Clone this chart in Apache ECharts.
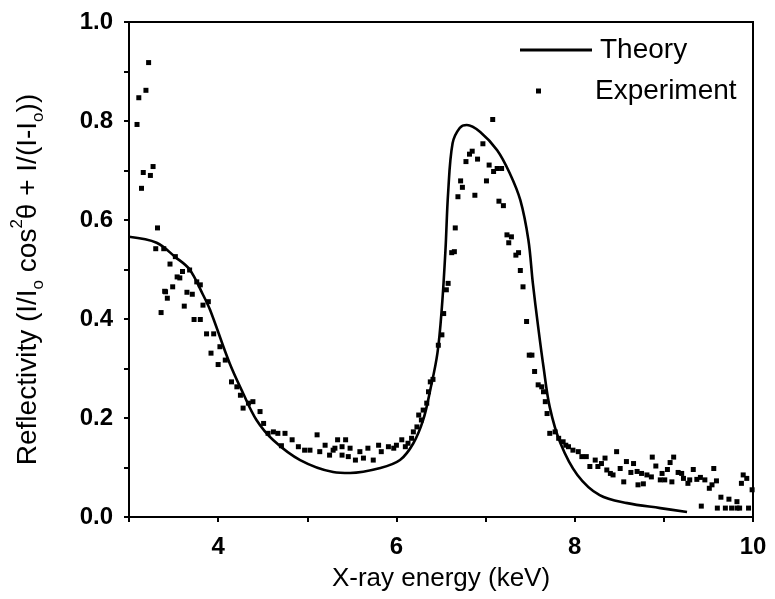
<!DOCTYPE html>
<html>
<head>
<meta charset="utf-8">
<title>Reflectivity vs X-ray energy</title>
<script src="https://cdn.jsdelivr.net/npm/echarts@6/dist/echarts.min.js"></script>
<style>
  html, body { margin: 0; padding: 0; background: #fff; }
  #chart { width: 775px; height: 599px; }
</style>
</head>
<body>
<div id="chart"></div>
<script>
// Theoretical reflectivity curve (energy in keV, reflectivity)
const theoryX = [3.00, 3.31, 3.52, 3.68, 3.83, 3.91, 4.13, 4.28, 4.43, 4.62, 4.92, 5.29, 5.48, 5.82, 6.04, 6.19, 6.30, 6.38, 6.46, 6.51, 6.55, 6.58, 6.63, 6.71, 6.79, 6.94, 7.13, 7.27, 7.39, 7.48, 7.53, 7.59, 7.65, 7.72, 7.84, 8.03, 8.28, 8.59, 8.96, 9.26];
const theoryY = [0.566, 0.554, 0.525, 0.500, 0.449, 0.418, 0.310, 0.250, 0.196, 0.155, 0.115, 0.091, 0.089, 0.099, 0.115, 0.149, 0.196, 0.257, 0.331, 0.424, 0.539, 0.655, 0.755, 0.786, 0.792, 0.778, 0.741, 0.695, 0.640, 0.560, 0.473, 0.384, 0.303, 0.222, 0.149, 0.085, 0.044, 0.028, 0.018, 0.010];

// Measured reflectivity
const expX = [3.09, 3.11, 3.14, 3.16, 3.19, 3.22, 3.24, 3.27, 3.30, 3.32, 3.36, 3.39, 3.40, 3.41, 3.43, 3.46, 3.49, 3.52, 3.54, 3.57, 3.60, 3.62, 3.65, 3.68, 3.71, 3.73, 3.76, 3.80, 3.80, 3.83, 3.87, 3.89, 3.92, 3.95, 4.00, 4.02, 4.08, 4.15, 4.21, 4.25, 4.28, 4.34, 4.39, 4.47, 4.51, 4.56, 4.62, 4.67, 4.71, 4.75, 4.83, 4.90, 4.97, 5.03, 5.11, 5.14, 5.20, 5.25, 5.29, 5.31, 5.34, 5.39, 5.39, 5.43, 5.46, 5.48, 5.54, 5.59, 5.63, 5.68, 5.74, 5.80, 5.83, 5.91, 5.97, 6.00, 6.06, 6.10, 6.13, 6.17, 6.19, 6.23, 6.25, 6.28, 6.30, 6.34, 6.36, 6.38, 6.41, 6.47, 6.51, 6.53, 6.56, 6.58, 6.62, 6.65, 6.66, 6.69, 6.72, 6.74, 6.78, 6.82, 6.85, 6.88, 6.91, 6.97, 7.01, 7.04, 7.08, 7.09, 7.13, 7.15, 7.18, 7.20, 7.24, 7.26, 7.29, 7.34, 7.37, 7.39, 7.42, 7.46, 7.49, 7.52, 7.55, 7.59, 7.63, 7.65, 7.67, 7.69, 7.72, 7.78, 7.82, 7.87, 7.90, 7.93, 7.98, 8.04, 8.08, 8.13, 8.17, 8.23, 8.26, 8.30, 8.34, 8.36, 8.40, 8.43, 8.47, 8.51, 8.55, 8.58, 8.63, 8.66, 8.70, 8.71, 8.75, 8.77, 8.81, 8.86, 8.87, 8.91, 8.96, 8.98, 9.01, 9.04, 9.07, 9.09, 9.11, 9.16, 9.20, 9.22, 9.27, 9.29, 9.33, 9.37, 9.41, 9.42, 9.46, 9.51, 9.54, 9.56, 9.59, 9.60, 9.64, 9.69, 9.73, 9.76, 9.82, 9.82, 9.85, 9.87, 9.89, 9.93, 9.95, 9.99];
const expY = [0.793, 0.847, 0.664, 0.696, 0.862, 0.918, 0.690, 0.708, 0.542, 0.584, 0.413, 0.542, 0.456, 0.455, 0.442, 0.511, 0.465, 0.526, 0.485, 0.483, 0.496, 0.426, 0.454, 0.499, 0.450, 0.399, 0.475, 0.469, 0.399, 0.428, 0.370, 0.435, 0.331, 0.370, 0.308, 0.344, 0.317, 0.273, 0.263, 0.246, 0.220, 0.230, 0.233, 0.213, 0.189, 0.169, 0.172, 0.169, 0.144, 0.169, 0.156, 0.142, 0.135, 0.135, 0.166, 0.132, 0.145, 0.125, 0.135, 0.139, 0.156, 0.125, 0.142, 0.156, 0.122, 0.139, 0.115, 0.132, 0.119, 0.139, 0.115, 0.145, 0.132, 0.142, 0.139, 0.145, 0.156, 0.142, 0.149, 0.159, 0.172, 0.182, 0.206, 0.196, 0.216, 0.230, 0.253, 0.273, 0.278, 0.347, 0.368, 0.411, 0.459, 0.472, 0.534, 0.536, 0.584, 0.647, 0.679, 0.666, 0.718, 0.733, 0.739, 0.650, 0.723, 0.754, 0.679, 0.711, 0.803, 0.698, 0.704, 0.638, 0.704, 0.629, 0.570, 0.554, 0.566, 0.529, 0.534, 0.498, 0.465, 0.395, 0.327, 0.327, 0.294, 0.267, 0.263, 0.253, 0.233, 0.209, 0.169, 0.172, 0.159, 0.152, 0.145, 0.142, 0.135, 0.132, 0.122, 0.122, 0.102, 0.115, 0.102, 0.108, 0.119, 0.095, 0.088, 0.085, 0.132, 0.098, 0.071, 0.112, 0.090, 0.108, 0.092, 0.065, 0.088, 0.067, 0.085, 0.081, 0.121, 0.103, 0.075, 0.088, 0.075, 0.096, 0.110, 0.071, 0.121, 0.090, 0.088, 0.078, 0.068, 0.075, 0.096, 0.076, 0.080, 0.022, 0.075, 0.058, 0.065, 0.098, 0.073, 0.018, 0.040, 0.018, 0.036, 0.018, 0.031, 0.018, 0.018, 0.068, 0.085, 0.078, 0.018, 0.055];

const xTickValues = [4, 6, 8, 10];
const yTickValues = [0.0, 0.2, 0.4, 0.6, 0.8, 1.0];

const zip = (xs, ys) => xs.map((x, i) => [x, ys[i]]);

const FONT = '"Liberation Sans", Arial, sans-serif';
const chart = echarts.init(document.getElementById('chart'), null, { renderer: 'canvas' });

const axisLineStyle = { color: '#000', width: 2 };

chart.setOption({
  backgroundColor: '#fff',
  animation: false,
  grid: {
    left: 129, right: 22, top: 22, bottom: 82,
    show: true, borderColor: '#000', borderWidth: 2, backgroundColor: 'transparent'
  },
  legend: [
    {
      data: [{ name: 'Theory', icon: 'rect' }],
      left: 515, top: 31,
      itemWidth: 72, itemHeight: 3,
      itemStyle: { color: '#000' },
      textStyle: { fontFamily: FONT, fontSize: 28, color: '#000', padding: [0, 0, 0, 3] }
    },
    {
      data: [{ name: 'Experiment', icon: 'rect' }],
      left: 531, top: 72,
      itemWidth: 5, itemHeight: 5,
      itemStyle: { color: '#000' },
      textStyle: { fontFamily: FONT, fontSize: 28, color: '#000', padding: [0, 0, 0, 49] }
    }
  ],
  xAxis: {
    type: 'value',
    min: 3, max: 10, interval: 1,
    name: 'X-ray energy (keV)',
    nameLocation: 'middle',
    nameGap: 49,
    nameTextStyle: { fontFamily: FONT, fontSize: 26, color: '#000' },
    axisLine: { show: true, lineStyle: axisLineStyle },
    axisTick: { show: true, length: 5, lineStyle: axisLineStyle },
    axisLabel: {
      fontFamily: FONT, fontSize: 24, fontWeight: 'bold', color: '#000', margin: 18,
      formatter: v => (xTickValues.indexOf(Math.round(v)) >= 0 ? String(Math.round(v)) : '')
    },
    splitLine: { show: false }
  },
  yAxis: {
    type: 'value',
    min: 0, max: 1, interval: 0.1,
    name: '{t|Reflectivity (I/I}{sub|o}{t| cos}{sup|2}{t|θ + I/(I-I}{sub|o}{t|))}',
    nameLocation: 'middle',
    nameRotate: 90,
    nameGap: 82,
    nameTextStyle: {
      fontFamily: FONT, fontSize: 28, color: '#000',
      padding: [0, 20, 0, 0],
      rich: {
        t: { fontFamily: FONT, fontSize: 28, color: '#000', lineHeight: 38, verticalAlign: 'middle' },
        sub: { fontFamily: FONT, fontSize: 17, color: '#000', lineHeight: 38, verticalAlign: 'bottom' },
        sup: { fontFamily: FONT, fontSize: 17, color: '#000', lineHeight: 38, verticalAlign: 'top' }
      }
    },
    axisLine: { show: true, lineStyle: axisLineStyle },
    axisTick: { show: true, length: 5, lineStyle: axisLineStyle },
    axisLabel: {
      fontFamily: FONT, fontSize: 24, fontWeight: 'bold', color: '#000', margin: 16,
      formatter: v => {
        const r = Math.round(v * 10) / 10;
        return yTickValues.some(t => Math.abs(t - r) < 1e-9) ? r.toFixed(1) : '';
      }
    },
    splitLine: { show: false }
  },
  series: [
    {
      name: 'Theory',
      type: 'line',
      data: zip(theoryX, theoryY),
      smooth: 0.35,
      symbol: 'none',
      lineStyle: { color: '#000', width: 2.6 },
      itemStyle: { color: '#000' },
      z: 3
    },
    {
      name: 'Experiment',
      type: 'scatter',
      data: zip(expX, expY),
      symbol: 'rect',
      symbolSize: 5,
      itemStyle: { color: '#000', opacity: 1 },
      z: 4
    }
  ]
});
</script>
</body>
</html>
